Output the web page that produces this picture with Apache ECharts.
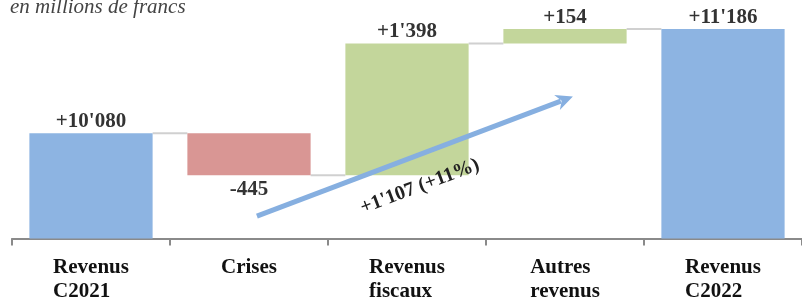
<!DOCTYPE html>
<html>
<head>
<meta charset="utf-8">
<script src="https://cdn.jsdelivr.net/npm/echarts@6/dist/echarts.min.js"></script>
<style>
  html, body { margin: 0; padding: 0; background: #fff; }
  #chart { width: 802px; height: 302px; }
</style>
</head>
<body>
<div id="chart"></div>
<script>
// data
const categories = ['Revenus\nC2021', 'Crises', 'Revenus\nfiscaux', 'Autres\nrevenus', 'Revenus\nC2022'];
const deltas = [10080, -445, 1398, 154, 11186];
const isTotal = [true, false, false, false, true];
const barColors = ['#8db4e2', '#d99694', '#c3d69b', '#c3d69b', '#8db4e2'];
const subtitle = 'en millions de francs';
const growthLabel = "+1'107 (+11%)";
// arrow ends: [category, value, offset inside the band]
const arrowFrom = ['Crises', 9202, 0.05];
const arrowTo = ['Autres\nrevenus', 10470, 0.05];

const serif = '"Liberation Serif", "Times New Roman", serif';

function fmt(v) {
  const s = Math.abs(v).toString().replace(/\B(?=(\d{3})+(?!\d))/g, "'");
  return (v < 0 ? '-' : '+') + s;
}

// build the waterfall (transparent base + visible part)
const base = [];
const visible = [];
const levels = [];
let running = 0;
deltas.forEach((v, i) => {
  if (isTotal[i]) {
    base.push(0);
    visible.push(v);
    running = v;
  } else if (v >= 0) {
    base.push(running);
    visible.push(v);
    running += v;
  } else {
    base.push(running + v);
    visible.push(-v);
    running += v;
  }
  levels.push(running);
});
// connectors between neighbouring bars
const connectors = levels.slice(0, -1).map((lv, i) => [i, lv]);

const chart = echarts.init(document.getElementById('chart'));

const option = {
  animation: false,
  grid: { left: 12, right: -4, top: 8, bottom: 62 },
  xAxis: {
    type: 'category',
    data: categories,
    axisLine: { lineStyle: { color: '#8a8a8a', width: 2 } },
    axisTick: { show: true, length: 7, lineStyle: { color: '#8a8a8a', width: 2 } },
    axisLabel: {
      margin: 17,
      formatter: (v) => v.split('\n').map((s) => '{l|' + s + '}').join('\n'),
      rich: {
        l: {
          align: 'left',
          fontFamily: serif,
          fontWeight: 'bold',
          fontSize: 21,
          lineHeight: 24,
          color: '#111'
        }
      }
    }
  },
  yAxis: {
    type: 'value',
    min: 8965,
    max: 11409,
    show: false,
    splitLine: { show: false }
  },
  series: [
    {
      type: 'bar',
      stack: 'wf',
      barWidth: '78%',
      itemStyle: { color: 'transparent' },
      silent: true,
      data: base
    },
    {
      type: 'bar',
      stack: 'wf',
      barWidth: '78%',
      z: 3,
      data: visible.map((v, i) => ({
        value: v,
        itemStyle: { color: barColors[i] },
        label: {
          show: true,
          position: deltas[i] < 0 ? 'bottom' : 'top',
          distance: deltas[i] < 0 ? 4 : 1,
          formatter: () => fmt(deltas[i]),
          fontFamily: serif,
          fontWeight: 'bold',
          fontSize: 21,
          color: '#333'
        }
      }))
    },
    {
      type: 'custom',
      z: 1,
      silent: true,
      data: connectors,
      renderItem: (params, api) => {
        const p = api.coord([api.value(0), api.value(1)]);
        const band = api.size([1, 0])[0];
        const half = band * 0.39;
        return {
          type: 'line',
          shape: { x1: p[0] + half, y1: p[1], x2: p[0] + band - half, y2: p[1] },
          style: { stroke: '#d0d0d0', lineWidth: 2 }
        };
      }
    }
  ]
};

chart.setOption(option);

// growth arrow and subtitle
const band = chart.convertToPixel({ xAxisIndex: 0 }, categories[1]) - chart.convertToPixel({ xAxisIndex: 0 }, categories[0]);
const p0 = chart.convertToPixel({ xAxisIndex: 0, yAxisIndex: 0 }, [arrowFrom[0], arrowFrom[1]]);
const p1 = chart.convertToPixel({ xAxisIndex: 0, yAxisIndex: 0 }, [arrowTo[0], arrowTo[1]]);
p0[0] += arrowFrom[2] * band;
p1[0] += arrowTo[2] * band;
const dx = p1[0] - p0[0];
const dy = p1[1] - p0[1];
const len = Math.sqrt(dx * dx + dy * dy);
const ux = dx / len, uy = dy / len;
const nx = -uy, ny = ux; // normal pointing down-right
const headLen = 17, headHalf = 8;
const hb = [p1[0] - ux * headLen, p1[1] - uy * headLen];
const mid = [(p0[0] + p1[0]) / 2, (p0[1] + p1[1]) / 2];
const arrowColor = '#86afe0';

chart.setOption({
  graphic: [
    {
      type: 'text',
      x: 10,
      y: 7,
      style: {
        text: subtitle,
        font: 'italic 21px ' + serif,
        fill: '#444',
        verticalAlign: 'middle'
      }
    },
    {
      type: 'line',
      z: 10,
      shape: { x1: p0[0], y1: p0[1], x2: hb[0] + ux * 4, y2: hb[1] + uy * 4 },
      style: { stroke: arrowColor, lineWidth: 5 }
    },
    {
      type: 'polygon',
      z: 10,
      shape: {
        points: [
          [p1[0], p1[1]],
          [hb[0] + nx * headHalf, hb[1] + ny * headHalf],
          [hb[0] + ux * 5, hb[1] + uy * 5],
          [hb[0] - nx * headHalf, hb[1] - ny * headHalf]
        ]
      },
      style: { fill: arrowColor }
    },
    {
      type: 'text',
      z: 10,
      x: mid[0] + nx * 30 - ux * 6,
      y: mid[1] + ny * 30 - uy * 6,
      rotation: -Math.atan2(dy, dx),
      style: {
        text: growthLabel,
        font: 'bold 20px ' + serif,
        fill: '#222',
        align: 'center',
        verticalAlign: 'middle'
      }
    }
  ]
});
</script>
</body>
</html>
